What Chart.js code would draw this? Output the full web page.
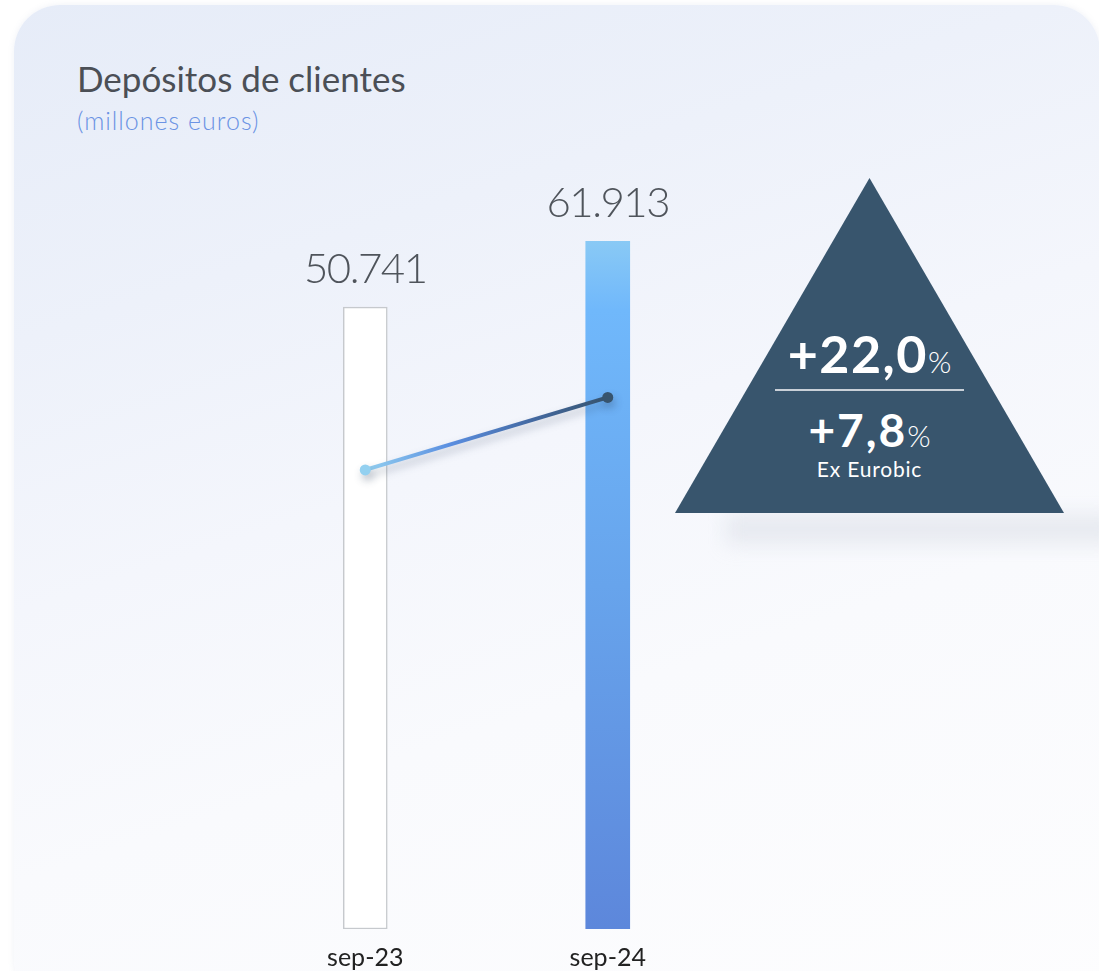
<!DOCTYPE html>
<html>
<head>
<meta charset="utf-8">
<script src="https://cdn.jsdelivr.net/npm/chart.js@4/dist/chart.umd.min.js"></script>
<style>
  html, body { margin: 0; padding: 0; background: #ffffff; }
  body { width: 1099px; height: 971px; position: relative; overflow: hidden; font-family: Lato, 'Noto Sans', sans-serif; }
  .panel {
    position: absolute; left: 14px; top: 5px; width: 1086px; height: 1000px;
    border-radius: 46px;
    background: linear-gradient(162deg, #e6ecf8 0%, #edf1fa 25%, #f4f6fc 45%, #f9fafd 65%, #fdfdfe 100%);
    box-shadow: 0 0 6px rgba(120,140,180,0.12);
  }
  .title { position: absolute; left: 77px; top: 61px; font-size: 35px; line-height: 1; color: #4b4f56; }
  .subtitle { position: absolute; left: 77px; top: 108px; font-size: 25px; line-height: 1; font-weight: 300; letter-spacing: 1px; color: #6b93e4; }
  .chart-box { position: absolute; left: 0; top: 0; width: 1099px; height: 987px; }
  .tri-shadow {
    position: absolute; left: 726px; top: 514px; width: 390px; height: 30px;
    background: rgba(195,202,215,0.32); filter: blur(10px);
  }
  .triangle {
    position: absolute; left: 675px; top: 178px; width: 389px; height: 335px;
    background: #38556d;
    clip-path: polygon(50% 0, 100% 100%, 0 100%);
  }
  .tri-text { position: absolute; left: 675px; width: 389px; text-align: center; color: #ffffff; line-height: 1; }
  .big { font-weight: 700; }
  .big span { font-size: 30px; font-weight: 300; letter-spacing: 0; }
  .rule { position: absolute; left: 775px; top: 389px; width: 189px; height: 2px; background: #c9d0d8; }
</style>
</head>
<body>
<div class="panel"></div>
<div class="title">Depósitos de clientes</div>
<div class="subtitle">(millones euros)</div>
<div class="tri-shadow"></div>
<div class="triangle"></div>
<div class="tri-text big" style="top:327px; font-size:52px; letter-spacing:1.5px;" id="chgTotal"></div>
<div class="rule"></div>
<div class="tri-text big" style="top:407px; font-size:46px; letter-spacing:2px;" id="chgEx"></div>
<div class="tri-text" style="top:458px; font-size:21px; letter-spacing:0.8px;" id="chgNote"></div>
<div class="chart-box"><canvas id="depChart"></canvas></div>
<script>
// categories and values
const categories = ['sep-23', 'sep-24'];
const deposits = [50741, 61913];
const trendLine = [23100, 35400];
const growthTotal = '+22,0';
const growthEx = '+7,8';
const growthNote = 'Ex Eurobic';

// hidden value axis (does not start at zero in the original)
const yMin = -54860;
const yMax = 68930;

document.getElementById('chgTotal').innerHTML = growthTotal + '<span>%</span>';
document.getElementById('chgEx').innerHTML = growthEx + '<span>%</span>';
document.getElementById('chgNote').textContent = growthNote;

function fmt(v) {
    return String(v).replace(/\B(?=(\d{3})+(?!\d))/g, '.');
}

// value labels above the bars
const valueLabels = {
    id: 'valueLabels',
    afterDatasetsDraw(chart) {
        const ctx = chart.ctx;
        const meta = chart.getDatasetMeta(1);
        ctx.save();
        ctx.font = '300 42px Lato';
        ctx.letterSpacing = '-1.5px';
        ctx.fillStyle = '#4f545b';
        ctx.textAlign = 'center';
        ctx.textBaseline = 'alphabetic';
        meta.data.forEach(function(bar, i) {
            ctx.fillText(fmt(deposits[i]), bar.x, bar.y - 24);
        });
        ctx.restore();
    }
};

// soft shadow under the trend line
const lineShadow = {
    id: 'lineShadow',
    beforeDatasetDraw(chart, args) {
        if (args.index !== 0) return;
        const ctx = chart.ctx;
        ctx.save();
        ctx.shadowColor = 'rgba(40,60,90,0.3)';
        ctx.shadowBlur = 8;
        ctx.shadowOffsetX = 2;
        ctx.shadowOffsetY = 5;
    },
    afterDatasetDraw(chart, args) {
        if (args.index !== 0) return;
        chart.ctx.restore();
    }
};

function lineGradient(context) {
    const chart = context.chart;
    if (!chart.chartArea) return '#4f80d6';
    const x = chart.scales.x;
    const g = chart.ctx.createLinearGradient(x.getPixelForValue(0), 0, x.getPixelForValue(1), 0);
    g.addColorStop(0, '#93d0f0');
    g.addColorStop(0.35, '#5a8ee0');
    g.addColorStop(0.7, '#43689f');
    g.addColorStop(1, '#37546e');
    return g;
}

function barFill(context) {
    const chart = context.chart;
    if (context.dataIndex === 0) return '#ffffff';
    if (!chart.chartArea) return '#6aaef5';
    const y = chart.scales.y;
    const top = y.getPixelForValue(deposits[1]);
    const g = chart.ctx.createLinearGradient(0, top, 0, chart.chartArea.bottom);
    g.addColorStop(0, '#89c9f5');
    g.addColorStop(0.1, '#70b8fb');
    g.addColorStop(0.5, '#67a4ec');
    g.addColorStop(1, '#5d87db');
    return g;
}

new Chart(document.getElementById('depChart'), {
    data: {
        labels: categories,
        datasets: [
            {
                type: 'line',
                data: trendLine,
                order: 0,
                borderColor: lineGradient,
                borderWidth: 4,
                pointRadius: 5.5,
                pointBorderWidth: 0,
                pointBackgroundColor: ['#93d0f0', '#37546e'],
                fill: false,
                tension: 0
            },
            {
                type: 'bar',
                data: deposits,
                order: 1,
                base: yMin,
                backgroundColor: barFill,
                borderColor: ['#c6c9cd', 'rgba(0,0,0,0)'],
                borderWidth: [1.5, 0],
                borderSkipped: false,
                barThickness: 44
            }
        ]
    },
    options: {
        responsive: true,
        maintainAspectRatio: false,
        animation: false,
        layout: {
            padding: { top: 200, bottom: 0, left: 244, right: 370 }
        },
        plugins: {
            legend: { display: false },
            tooltip: { enabled: false },
            title: { display: false }
        },
        scales: {
            x: {
                grid: { display: false, drawTicks: false },
                border: { display: false },
                ticks: {
                    padding: 14,
                    color: '#222222',
                    font: { family: 'Lato', size: 25 }
                }
            },
            y: {
                display: false,
                min: yMin,
                max: yMax
            }
        }
    },
    plugins: [valueLabels, lineShadow]
});
</script>
</body>
</html>
